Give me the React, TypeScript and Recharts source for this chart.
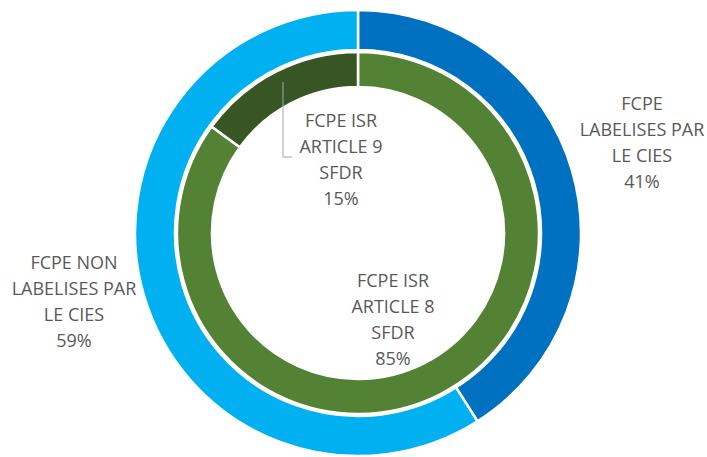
import React from "react";
import { PieChart, Pie, Cell } from "recharts";

const outerCategories = ["FCPE\nLABELISES PAR\nLE CIES", "FCPE NON\nLABELISES PAR\nLE CIES"];
const outerValues = [41, 59];
const innerCategories = ["FCPE ISR\nARTICLE 8\nSFDR", "FCPE ISR\nARTICLE 9\nSFDR"];
const innerValues = [85, 15];

const outerColors = ["#0070C0", "#00B0F0"];
const innerColors = ["#548235", "#375623"];

const outerData = outerCategories.map((name, i) => ({ name, value: outerValues[i] }));
const innerData = innerCategories.map((name, i) => ({ name, value: innerValues[i] }));

// label layout (positions of the text blocks, px in chart coordinates)
const outerLabelPos = [
  { x: 642, y: 103 },
  { x: 74, y: 262 },
];
const innerLabelPos = [
  { x: 393, y: 280 },
  { x: 341, y: 120 },
];
const LINE_STEP = 26;
const TEXT_COLOR = "#595959";
const FONT = "'Open Sans', sans-serif";

const makeLabel = (positions: { x: number; y: number }[], withLeader: boolean) => (props: any) => {
  const { index, name, value } = props;
  const pos = positions[index];
  const lines = [...String(name).split("\n"), `${value}%`];
  return (
    <g key={`lbl-${index}`}>
      {withLeader && index === 1 && (
        <polyline
          points={`283,82 283,157 292,157`}
          fill="none"
          stroke="#A6A6A6"
          strokeWidth={1}
        />
      )}
      {lines.map((ln, k) => (
        <text
          key={k}
          x={pos.x}
          y={pos.y + k * LINE_STEP}
          textAnchor="middle"
          dominantBaseline="central"
          fill={TEXT_COLOR}
          fontSize={18}
          fontFamily={FONT}
        >
          {ln}
        </text>
      ))}
    </g>
  );
};

export default function App() {
  return (
    <div style={{ position: "absolute", left: 0, top: 0, width: 707, height: 457, background: "#fff" }}>
      <PieChart width={707} height={457} margin={{ top: 0, right: 0, bottom: 0, left: 0 }}>
        <Pie
          data={outerData}
          dataKey="value"
          nameKey="name"
          cx={358}
          cy={233}
          innerRadius={183}
          outerRadius={223}
          startAngle={90}
          endAngle={-270}
          stroke="#FFFFFF"
          strokeWidth={2.5}
          isAnimationActive={false}
          labelLine={false}
          label={makeLabel(outerLabelPos, false)}
        >
          {outerData.map((_, i) => (
            <Cell key={i} fill={outerColors[i]} />
          ))}
        </Pie>
        <Pie
          data={innerData}
          dataKey="value"
          nameKey="name"
          cx={358}
          cy={233}
          innerRadius={146}
          outerRadius={181}
          startAngle={90}
          endAngle={-270}
          stroke="#FFFFFF"
          strokeWidth={2.5}
          isAnimationActive={false}
          labelLine={false}
          label={makeLabel(innerLabelPos, true)}
        >
          {innerData.map((_, i) => (
            <Cell key={i} fill={innerColors[i]} />
          ))}
        </Pie>
      </PieChart>
    </div>
  );
}
